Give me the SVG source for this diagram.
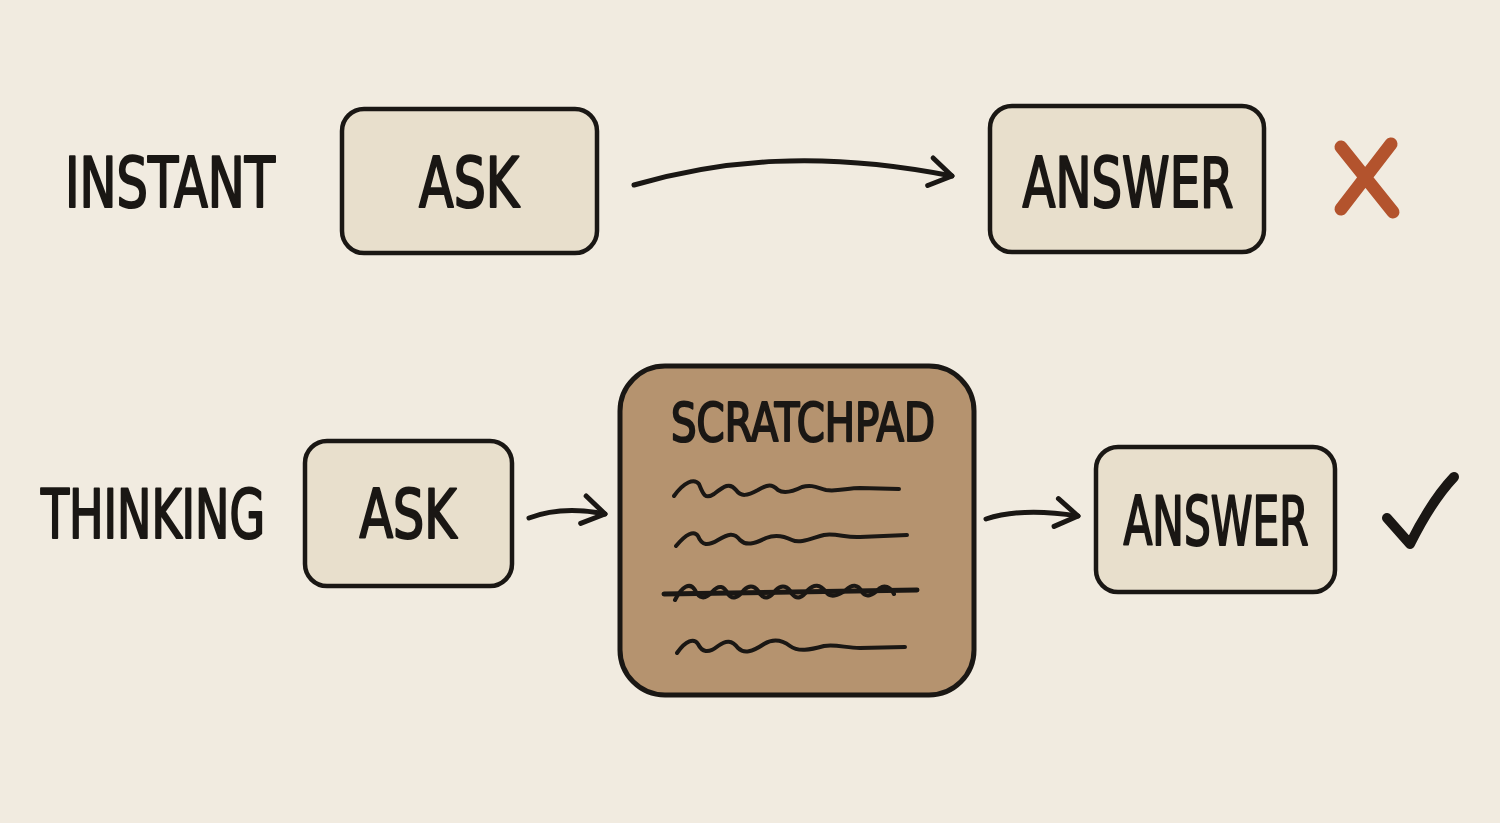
<svg xmlns="http://www.w3.org/2000/svg" width="1500" height="823" viewBox="0 0 1500 823">
<defs>
<style>
.lbl{font-family:"DejaVu Sans Condensed","Liberation Sans Narrow","Liberation Sans",sans-serif;font-weight:normal;fill:#1a1714;stroke:#1a1714;stroke-width:2.2;stroke-linejoin:round;}
.box{fill:#e8dfcc;stroke:#1a1714;stroke-width:4.5;}
.pad{fill:#b5936f;stroke:#1a1714;stroke-width:5;}
.ln{fill:none;stroke:#1a1714;stroke-width:5;stroke-linecap:round;stroke-linejoin:round;}
.sq{fill:none;stroke:#1a1714;stroke-width:4;stroke-linecap:round;stroke-linejoin:round;}
</style>
<marker id="ah" viewBox="0 0 30 34" refX="26" refY="17" markerWidth="30" markerHeight="34" markerUnits="userSpaceOnUse" orient="auto">
<path d="M4,3 L26,17 L4,31" fill="none" stroke="#1a1714" stroke-width="5" stroke-linecap="round" stroke-linejoin="round"/>
</marker>
</defs>
<rect width="1500" height="823" fill="#f1ebe0"/>

<g id="label-instant"><text class="lbl" x="275" y="207" font-size="70" text-anchor="end" textLength="210" lengthAdjust="spacingAndGlyphs">INSTANT</text></g>
<g id="ask1"><rect class="box" x="342" y="109" width="255" height="144" rx="22"/><text class="lbl" x="469" y="207" font-size="70" text-anchor="middle" textLength="100" lengthAdjust="spacingAndGlyphs">ASK</text></g>
<g id="answer1"><rect class="box" x="990" y="106" width="274" height="146" rx="22"/><text class="lbl" x="1128" y="207" font-size="70" text-anchor="middle" textLength="211" lengthAdjust="spacingAndGlyphs">ANSWER</text></g>
<g id="cross"><path d="M1341,147 L1393,212 M1391,144 L1341,209" fill="none" stroke="#b3532d" stroke-width="13" stroke-linecap="round"/></g>

<g id="label-thinking"><text class="lbl" x="265" y="538" font-size="68" text-anchor="end" textLength="224" lengthAdjust="spacingAndGlyphs">THINKING</text></g>
<g id="ask2"><rect class="box" x="305" y="441" width="207" height="145" rx="22"/><text class="lbl" x="408" y="538" font-size="68" text-anchor="middle" textLength="97" lengthAdjust="spacingAndGlyphs">ASK</text></g>
<g id="scratchpad">
<rect class="pad" x="620" y="366" width="354" height="329" rx="45"/>
<text class="lbl" x="803" y="441" font-size="54" text-anchor="middle" textLength="264" lengthAdjust="spacingAndGlyphs">SCRATCHPAD</text>
<path class="sq" d="M674,496 C684,482 694,478 699,484 C703,494 705,500 714,494 C724,486 730,482 736,490 C741,497 747,496 758,490 C768,484 772,484 778,490 C784,494 792,492 802,487 C812,484 818,488 826,490 C836,492 848,488 860,488 L899,489"/>
<path class="sq" d="M676,546 C686,534 694,530 698,536 C702,546 708,546 718,540 C728,534 734,532 740,540 C746,546 754,544 766,538 C776,534 784,536 792,540 C800,544 812,538 824,535 C836,533 846,538 860,537 L907,535"/>
<path class="sq" d="M675,600 C682,586 690,582 695,590 C699,599 705,600 712,592 C719,584 724,586 728,594 C732,600 738,598 744,590 C750,584 756,586 760,594 C765,600 770,598 776,590 C782,584 788,586 792,594 C797,600 802,598 808,590 C814,584 820,584 826,592 C830,598 838,596 846,590 C852,584 858,584 862,592 C866,598 872,596 880,588 C884,585 890,586 894,594"/>
<path class="ln" d="M664,594 L917,590"/>
<path class="sq" d="M677,653 C686,640 694,638 698,644 C702,652 708,654 718,646 C726,640 732,640 738,648 C744,654 752,652 764,644 C774,638 782,640 790,646 C798,652 810,650 824,646 C836,644 846,648 860,648 L905,647"/>
</g>
<g id="answer2"><rect class="box" x="1096" y="447" width="239" height="145" rx="22"/><text class="lbl" x="1216" y="545" font-size="68" text-anchor="middle" textLength="185" lengthAdjust="spacingAndGlyphs">ANSWER</text></g>
<g id="check"><path d="M1387,518 L1410,544 C1422,520 1436,496 1454,477" fill="none" stroke="#1a1714" stroke-width="10" stroke-linecap="round" stroke-linejoin="round"/></g>

<g id="connectors">
<path class="ln" d="M634,185 C720,160 820,150 952,176" marker-end="url(#ah)"/>
<path class="ln" d="M529,518 C550,510 575,508 605,514" marker-end="url(#ah)"/>
<path class="ln" d="M986,519 C1010,511 1040,510 1078,516" marker-end="url(#ah)"/>
</g>
</svg>
